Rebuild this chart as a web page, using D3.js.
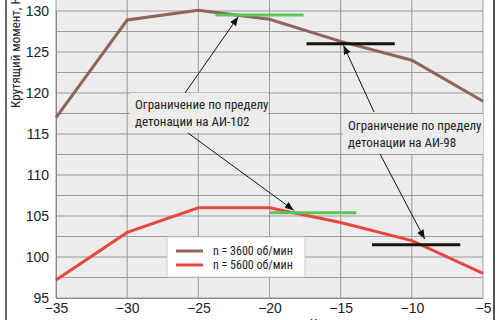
<!DOCTYPE html>
<html>
<head>
<meta charset="utf-8">
<script src="https://cdn.jsdelivr.net/npm/d3@7"></script>
<style>
body{margin:0;background:#fff}
svg{display:block;font-family:"Liberation Sans Narrow","Arial Narrow","Roboto Condensed",sans-serif}
</style>
</head>
<body>
<div class="chart"></div>
<script>
const angles = [-35,-30,-25,-20,-15,-10,-5]
const torque3600 = [117,128.9,130.1,129,126.3,124,119]
const torque5600 = [97.2,103,106,106,104.2,102,98]
const xTicks = [-35,-30,-25,-20,-15,-10,-5]
const yTicks = [95,100,105,110,115,120,125,130]
// knock limit marks: [x0, x1, value]
const limits102 = [[-23.8,-17.6,129.5],[-20,-13.9,105.4]]
const limits98 = [[-17.4,-11.2,126],[-12.8,-6.6,101.5]]
const legendLabels = ["n = 3600 об/мин","n = 5600 об/мин"]

const w = 500, h = 320
const brown = "#8e6556", red = "#e8473f"

const x = d3.scaleLinear().domain([-35,-5]).range([56,483])
const y = d3.scaleLinear().domain([95,130]).range([298,11])

const svg = d3.select(".chart").append("svg").attr("width",w).attr("height",h)

// frame lines
svg.append("line").attr("x1",6).attr("x2",6).attr("y1",0).attr("y2",h).attr("stroke","#333").attr("stroke-width",1.5)
svg.append("line").attr("x1",494).attr("x2",494).attr("y1",0).attr("y2",h).attr("stroke","#555").attr("stroke-width",2)

// plot background
svg.append("rect").attr("x",x(-35)).attr("y",0).attr("width",x(-5)-x(-35)).attr("height",y(95))
  .attr("fill","#ececec")

// grid
const hGrid = d3.range(95,132.6,2.5)
svg.append("g").selectAll("line").data(hGrid).enter().append("line")
  .attr("x1",x(-35)).attr("x2",x(-5)).attr("y1",d=>y(d)).attr("y2",d=>y(d))
  .attr("stroke","#9a9a9a").attr("stroke-width",1)
svg.append("g").selectAll("line").data(xTicks).enter().append("line")
  .attr("x1",d=>x(d)).attr("x2",d=>x(d)).attr("y1",0).attr("y2",y(95))
  .attr("stroke","#9a9a9a").attr("stroke-width",1)

// axes
const xAxis = d3.axisBottom(x).tickValues(xTicks).tickSize(0).tickPadding(5)
const yAxis = d3.axisLeft(y).tickValues(yTicks).tickSize(0).tickPadding(7)
const gx = svg.append("g").attr("transform",`translate(0,${y(95)})`).call(xAxis)
const gy = svg.append("g").attr("transform",`translate(${x(-35)},0)`).call(yAxis)
gx.select(".domain").attr("stroke","#888")
gy.select(".domain").attr("stroke","#888")
gx.selectAll("text").attr("font-size",14).attr("fill","#222").attr("font-family","inherit")
gy.selectAll("text").attr("font-size",14).attr("fill","#222").attr("font-family","inherit")

// axis titles (cropped by the frame, as in the source)
svg.append("text").attr("transform","translate(20,108) rotate(-90)")
  .attr("font-size",13).attr("fill","#222").text("Крутящий момент, Н·м")
svg.append("text").attr("x",310).attr("y",328)
  .attr("font-size",13).attr("fill","#222").text("Угол опережения зажигания, град")

// annotation boxes (hide grid)
svg.append("rect").attr("x",130).attr("y",93).attr("width",138).attr("height",40).attr("fill","#ececec")
svg.append("rect").attr("x",343).attr("y",114).attr("width",140).attr("height",40).attr("fill","#ececec")

// series
const line = d3.line().x((d,i)=>x(angles[i])).y(d=>y(d))
svg.append("path").datum(torque3600).attr("d",line).attr("fill","none").attr("stroke",brown).attr("stroke-width",3)
svg.append("path").datum(torque5600).attr("d",line).attr("fill","none").attr("stroke",red).attr("stroke-width",3)

// limit marks
svg.append("g").selectAll("line").data(limits102).enter().append("line")
  .attr("x1",d=>x(d[0])).attr("x2",d=>x(d[1])).attr("y1",d=>y(d[2])).attr("y2",d=>y(d[2]))
  .attr("stroke","#5bc65b").attr("stroke-width",3)
svg.append("g").selectAll("line").data(limits98).enter().append("line")
  .attr("x1",d=>x(d[0])).attr("x2",d=>x(d[1])).attr("y1",d=>y(d[2])).attr("y2",d=>y(d[2]))
  .attr("stroke","#1a1208").attr("stroke-width",3)

// arrows
const defs = svg.append("defs")
defs.append("marker").attr("id","ah").attr("viewBox","0 0 10 10").attr("refX",10).attr("refY",5)
  .attr("markerWidth",9).attr("markerHeight",9).attr("orient","auto").attr("markerUnits","userSpaceOnUse")
  .append("path").attr("d","M0,1 L10,5 L0,9 z").attr("fill","#111")
const arrows = [
  [185,93,x(-22.2),y(129.3)],
  [188,133,x(-18.3),y(105.7)],
  [374,112,x(-14.8),y(125.8)],
  [380,154,x(-9.1),y(102.2)]
]
svg.append("g").selectAll("line").data(arrows).enter().append("line")
  .attr("x1",d=>d[0]).attr("y1",d=>d[1]).attr("x2",d=>d[2]).attr("y2",d=>d[3])
  .attr("stroke","#111").attr("stroke-width",1).attr("marker-end","url(#ah)")

// annotation text
const ann = [[135,"Ограничение по пределу",109],[135,"детонации на АИ-102",126],
             [348,"Ограничение по пределу",130],[348,"детонации на АИ-98",147]]
svg.append("g").selectAll("text").data(ann).enter().append("text")
  .attr("x",d=>d[0]).attr("y",d=>d[2]).attr("font-size",13).attr("fill","#222").text(d=>d[1])

// legend
const lg = svg.append("g")
lg.append("rect").attr("x",167).attr("y",237).attr("width",138).attr("height",40)
  .attr("fill","#fff").attr("stroke","#ccc")
const lcol = [brown,red]
legendLabels.forEach((t,i)=>{
  lg.append("line").attr("x1",176).attr("x2",203).attr("y1",251+i*14).attr("y2",251+i*14)
    .attr("stroke",lcol[i]).attr("stroke-width",3)
  lg.append("text").attr("x",213).attr("y",255+i*14).attr("font-size",12).attr("fill","#222").text(t)
})
</script>
</body>
</html>
